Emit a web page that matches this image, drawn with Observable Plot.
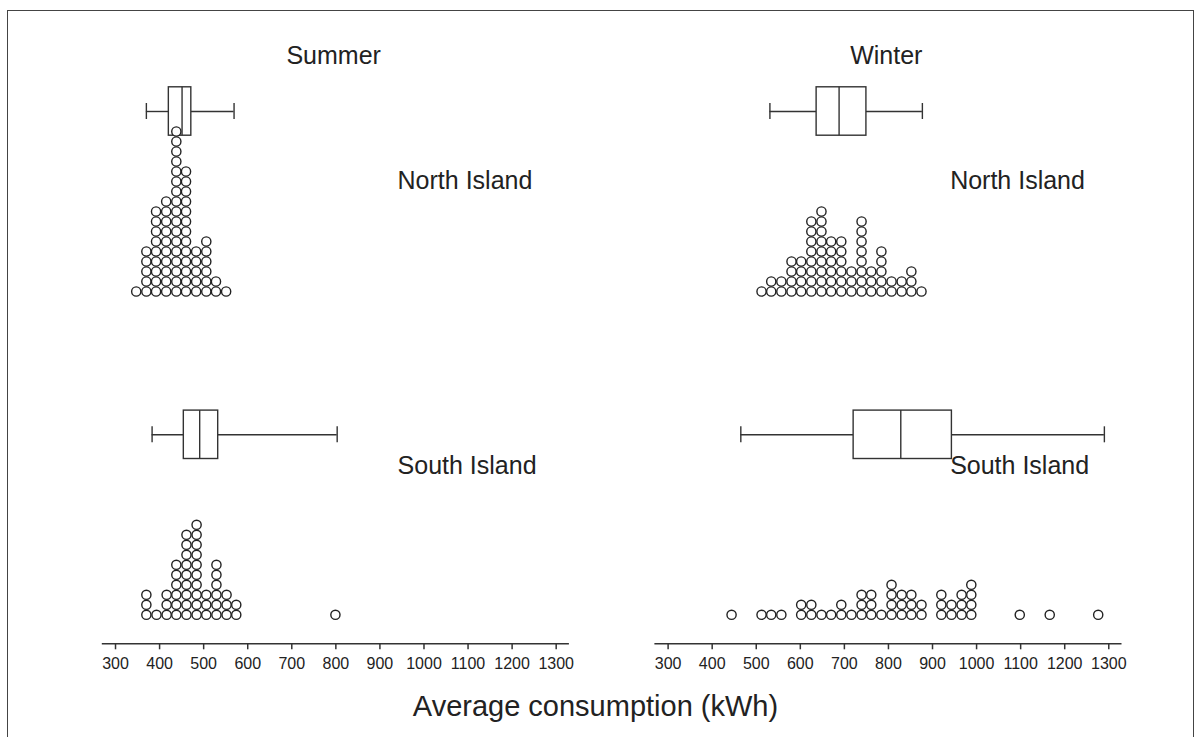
<!DOCTYPE html>
<html>
<head>
<meta charset="utf-8">
<script src="https://cdn.jsdelivr.net/npm/d3@7"></script>
<script src="https://cdn.jsdelivr.net/npm/@observablehq/plot@0.6"></script>
<style>
  html, body { margin: 0; padding: 0; background: #fff; }
  #wrap { position: relative; width: 1203px; height: 737px; overflow: hidden; font-family: "Liberation Sans", Arial, sans-serif; }
  #frame { position: absolute; left: 7px; top: 10px; width: 1187px; height: 800px; border: 1.4px solid #444; box-sizing: border-box; }
  #chart { position: absolute; left: 0; top: 0; }
  #xtitle { position: absolute; left: -6px; width: 1203px; top: 689px; text-align: center; font-size: 29px; color: #222; line-height: 34px; }
</style>
</head>
<body>
<div id="wrap">
  <div id="frame"></div>
  <div id="chart"></div>
  <div id="xtitle">Average consumption (kWh)</div>
</div>
<script>
// ---- data ----
const seasons = ["Summer", "Winter"];
const islands = ["North Island", "South Island"];
const xTicks = [300, 400, 500, 600, 700, 800, 900, 1000, 1100, 1200, 1300];

// dot plot columns (value of each stacked column) and number of dots in it
const summerNorthBins   = [347, 370, 392, 415, 438, 460, 483, 506, 528, 551];
const summerNorthCounts = [1, 5, 9, 10, 17, 13, 5, 6, 2, 1];

const summerSouthBins   = [370, 393, 416, 438, 461, 484, 506, 529, 552, 574, 799];
const summerSouthCounts = [3, 1, 3, 6, 9, 10, 3, 6, 3, 2, 1];

const winterNorthBins   = [512, 534, 557, 580, 602, 625, 648, 670, 693, 716, 739, 761, 784, 807, 830, 852, 875];
const winterNorthCounts = [1, 2, 2, 4, 4, 8, 9, 6, 6, 3, 8, 3, 5, 2, 2, 3, 1];

const winterSouthBins   = [444, 512, 534, 557, 602, 625, 648, 670, 693, 716, 739, 761, 784, 807, 830, 852, 875, 920, 943, 966, 988, 1098, 1166, 1276];
const winterSouthCounts = [1, 1, 1, 1, 2, 2, 1, 1, 2, 1, 3, 3, 1, 4, 3, 3, 2, 3, 2, 3, 4, 1, 1, 1];

// box plot five-number summaries
const boxSeason = ["Summer", "Summer", "Winter", "Winter"];
const boxIsland = ["North Island", "South Island", "North Island", "South Island"];
const boxMin    = [370, 383, 531, 465];
const boxQ1     = [421, 455, 637, 721];
const boxMedian = [451, 491, 688, 828];
const boxQ3     = [472, 533, 750, 944];
const boxMax    = [569, 803, 877, 1290];

// ---- layout constants (in dot-row units) ----
const BOX_ROW = 18, BOX_HALF = 2.42, CAP_HALF = 0.8;
const TITLE_ROW = 23.5, LABEL_X = 940, TITLE_X = 795, AXIS_ROW = -2.9;
const labelRows = {"North Island": 11.0, "South Island": 14.9};

// ---- build dot table ----
const panels = [
  ["Summer", "North Island", summerNorthBins, summerNorthCounts],
  ["Summer", "South Island", summerSouthBins, summerSouthCounts],
  ["Winter", "North Island", winterNorthBins, winterNorthCounts],
  ["Winter", "South Island", winterSouthBins, winterSouthCounts]
];
const dots = [];
for (const [season, island, bins, counts] of panels) {
  bins.forEach((v, i) => {
    for (let k = 0; k < counts[i]; k++) dots.push({season, island, x: v, row: k});
  });
}
const boxIdx = d3.range(boxSeason.length);
const labelData = [];
for (const s of seasons) for (const isl of islands) labelData.push({season: s, island: isl});

const ink = "#333";
const plot = Plot.plot({
  width: 1203,
  height: 680,
  marginLeft: 101.8,
  marginRight: 81.5,
  marginTop: 21,
  marginBottom: 36.7,
  x: {domain: [270, 1330]},
  y: {domain: [AXIS_ROW, 27], axis: null},
  fx: {domain: seasons, padding: 0.1547, round: false, axis: null},
  fy: {domain: islands, padding: 0.0752, round: false, axis: null},
  style: {fontFamily: '"Liberation Sans", Arial, sans-serif', color: "#222", background: "transparent"},
  marks: [
    // axis line along the bottom of each lower panel
    Plot.ruleY([{island: "South Island"}], {fy: "island", y: () => AXIS_ROW, stroke: ink, strokeWidth: 1.6}),
    Plot.axisX({ticks: xTicks, tickSize: 6, tickPadding: 8, fontSize: 16, stroke: ink, strokeWidth: 1.5, label: null, tickFormat: d => String(d)}),
    // whiskers
    Plot.ruleY(boxIdx, {fx: i => boxSeason[i], fy: i => boxIsland[i], x1: i => boxMin[i], x2: i => boxQ1[i], y: () => BOX_ROW, stroke: ink, strokeWidth: 1.4}),
    Plot.ruleY(boxIdx, {fx: i => boxSeason[i], fy: i => boxIsland[i], x1: i => boxQ3[i], x2: i => boxMax[i], y: () => BOX_ROW, stroke: ink, strokeWidth: 1.4}),
    Plot.ruleX(boxIdx, {fx: i => boxSeason[i], fy: i => boxIsland[i], x: i => boxMin[i], y1: () => BOX_ROW - CAP_HALF, y2: () => BOX_ROW + CAP_HALF, stroke: ink, strokeWidth: 1.4}),
    Plot.ruleX(boxIdx, {fx: i => boxSeason[i], fy: i => boxIsland[i], x: i => boxMax[i], y1: () => BOX_ROW - CAP_HALF, y2: () => BOX_ROW + CAP_HALF, stroke: ink, strokeWidth: 1.4}),
    // box
    Plot.rect(boxIdx, {fx: i => boxSeason[i], fy: i => boxIsland[i], x1: i => boxQ1[i], x2: i => boxQ3[i], y1: () => BOX_ROW - BOX_HALF, y2: () => BOX_ROW + BOX_HALF, fill: "white", stroke: ink, strokeWidth: 1.4}),
    Plot.ruleX(boxIdx, {fx: i => boxSeason[i], fy: i => boxIsland[i], x: i => boxMedian[i], y1: () => BOX_ROW - BOX_HALF, y2: () => BOX_ROW + BOX_HALF, stroke: ink, strokeWidth: 1.4}),
    // dots
    Plot.dot(dots, {x: "x", y: "row", fx: "season", fy: "island", r: 4.6, fill: "white", stroke: "#222", strokeWidth: 1.4}),
    // island labels
    Plot.text(labelData, {fx: "season", fy: "island", x: () => LABEL_X, y: d => labelRows[d.island], text: "island", textAnchor: "start", fontSize: 25, fill: "#222"}),
    // season titles
    Plot.text(seasons, {fx: d => d, fy: () => "North Island", x: () => TITLE_X, y: () => TITLE_ROW, text: d => d, fontSize: 25, fill: "#222"})
  ]
});
document.getElementById("chart").appendChild(plot);
</script>
</body>
</html>
